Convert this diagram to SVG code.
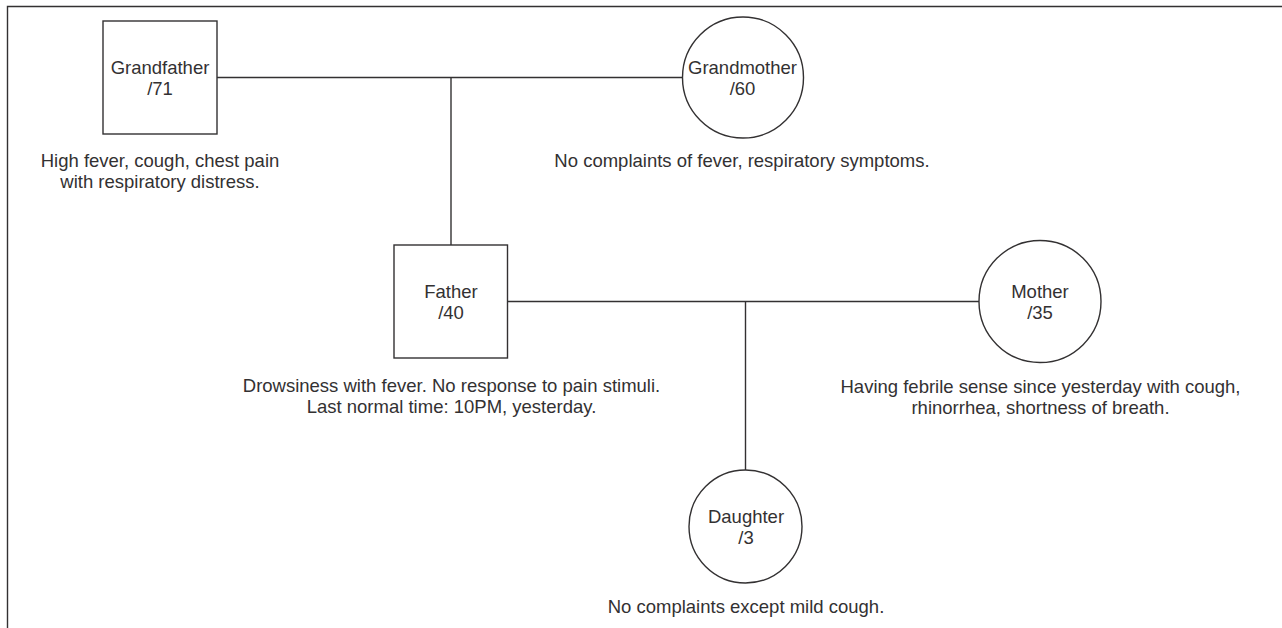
<svg xmlns="http://www.w3.org/2000/svg" width="1282" height="628" viewBox="0 0 1282 628">
<style>
.ln{fill:none;stroke:#333132;stroke-width:1.4}
.nd{fill:#ffffff;stroke:#333132;stroke-width:1.4}
text{font-family:"Liberation Sans",Arial,sans-serif;font-size:18.5px;fill:#333132;text-anchor:middle}
</style>
<rect x="0" y="0" width="1282" height="628" fill="#ffffff"/>
<path class="ln" d="M7.5 628 V6.5 H1282"/>
<g id="connectors">
<line class="ln" x1="217" y1="77.5" x2="682.5" y2="77.5"/>
<line class="ln" x1="451" y1="77.5" x2="451" y2="245"/>
<line class="ln" x1="507.5" y1="301.5" x2="979" y2="301.5"/>
<line class="ln" x1="745.5" y1="301.5" x2="745.5" y2="470"/>
</g>
<g id="grandfather">
<rect class="nd" x="103" y="21" width="114" height="113"/>
<text x="160" y="74">Grandfather</text>
<text x="160" y="95">/71</text>
<text x="160" y="166.5">High fever, cough, chest pain</text>
<text x="160" y="187.5">with respiratory distress.</text>
</g>
<g id="grandmother">
<circle class="nd" cx="743" cy="77.5" r="60.5"/>
<text x="742.5" y="74">Grandmother</text>
<text x="742.5" y="95">/60</text>
<text x="742" y="166.5">No complaints of fever, respiratory symptoms.</text>
</g>
<g id="father">
<rect class="nd" x="394" y="245" width="113.5" height="113"/>
<text x="451" y="298">Father</text>
<text x="451" y="319">/40</text>
<text x="451.5" y="391.5">Drowsiness with fever. No response to pain stimuli.</text>
<text x="451.5" y="412.5">Last normal time: 10PM, yesterday.</text>
</g>
<g id="mother">
<circle class="nd" cx="1040" cy="301.5" r="61"/>
<text x="1040" y="298">Mother</text>
<text x="1040" y="319">/35</text>
<text x="1040.5" y="393">Having febrile sense since yesterday with cough,</text>
<text x="1040.5" y="413.5">rhinorrhea, shortness of breath.</text>
</g>
<g id="daughter">
<circle class="nd" cx="745.5" cy="526.5" r="56.5"/>
<text x="746" y="523">Daughter</text>
<text x="746" y="544">/3</text>
<text x="746" y="613">No complaints except mild cough.</text>
</g>
</svg>
